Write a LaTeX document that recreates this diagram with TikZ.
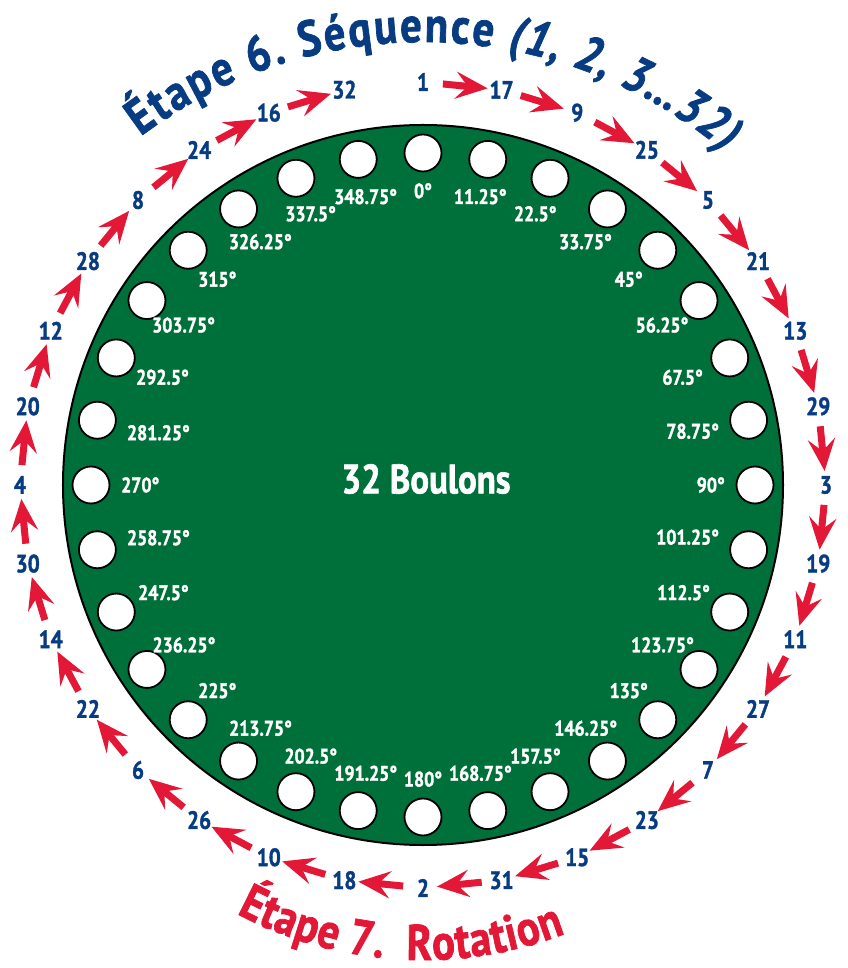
\documentclass[tikz,border=0pt]{standalone}
\usepackage{fontspec}
\setmainfont[FakeStretch=0.85, BoldFeatures={FakeBold=1.5}, BoldItalicFeatures={FakeBold=1.5}]{PT Sans}
\usetikzlibrary{arrows.meta,decorations.text}
\definecolor{dblue}{RGB}{8,60,130}
\definecolor{ared}{RGB}{227,24,55}
\definecolor{pgreen}{RGB}{0,112,58}
\newcommand\ttlfont{\bfseries\fontsize{50}{50}\selectfont}
\begin{document}
\begin{tikzpicture}[x=1pt,y=1pt,
  seqnum/.style={font=\bfseries\fontsize{25}{25}\selectfont, text=dblue, inner sep=1pt},
  anglab/.style={font=\bfseries\fontsize{21}{21}\selectfont, text=white, inner sep=0pt},
  hole/.style={circle, draw=black, line width=1.8pt, fill=white, minimum size=37pt, inner sep=0pt},
  disk/.style={circle, draw=black, line width=2pt, fill=pgreen, minimum size=720pt, inner sep=0pt},
  seqarrow/.style={draw=ared, line width=7pt, -{Stealth[length=32pt,width=27pt,inset=12pt]}, shorten <=20pt, shorten >=14pt},
  centertext/.style={font=\bfseries\fontsize{41}{41}\selectfont, text=white}]
\useasboundingbox (-423,-483) rectangle (424,485);
\node[disk] (disk) at (0,0) {};
\node[centertext] (boulons) at (3,6) {32 Boulons};
\foreach \a [count=\i from 0] in {0,11.25,22.5,33.75,45,56.25,67.5,78.75,90,101.25,112.5,123.75,135,146.25,157.5,168.75,180,191.25,202.5,213.75,225,236.25,247.5,258.75,270,281.25,292.5,303.75,315,326.25,337.5,348.75}{
  \pgfmathsetmacro\ang{mod(450-\a,360)}
  \node[hole] (h\i) at (\ang:332) {};
  \node[anglab, anchor=\ang] (l\i) at (\ang:302) {\a\textdegree};
}
\foreach \s [count=\i from 0] in {1,17,9,25,5,21,13,29,3,19,11,27,7,23,15,31,2,18,10,26,6,22,14,30,4,20,12,28,8,24,16,32}{
  \pgfmathsetmacro\ang{90-\i*11.25}
  \node[seqnum] (n\i) at (\ang:403) {\s};
}
\foreach \i in {0,...,30}{
  \pgfmathtruncatemacro\j{\i+1}
  \draw[seqarrow] (n\i.center) -- (n\j.center);
}
\path[decorate, decoration={text along path, text align=fit to path,
  text={|\color{dblue}\ttlfont|Étape 6. Séquence |\color{dblue}\ttlfont\itshape|(1, 2, 3…32)}}]
  (0,-26) ++(127:469) arc[start angle=127, end angle=50, radius=469];
\path[decorate, decoration={text along path, text align=fit to path,
  text={|\color{ared}\ttlfont|Étape 7. {\ }Rotation}}]
  (0,-78) ++(242:397) arc[start angle=242, end angle=291, radius=397];
\end{tikzpicture}
\end{document}
